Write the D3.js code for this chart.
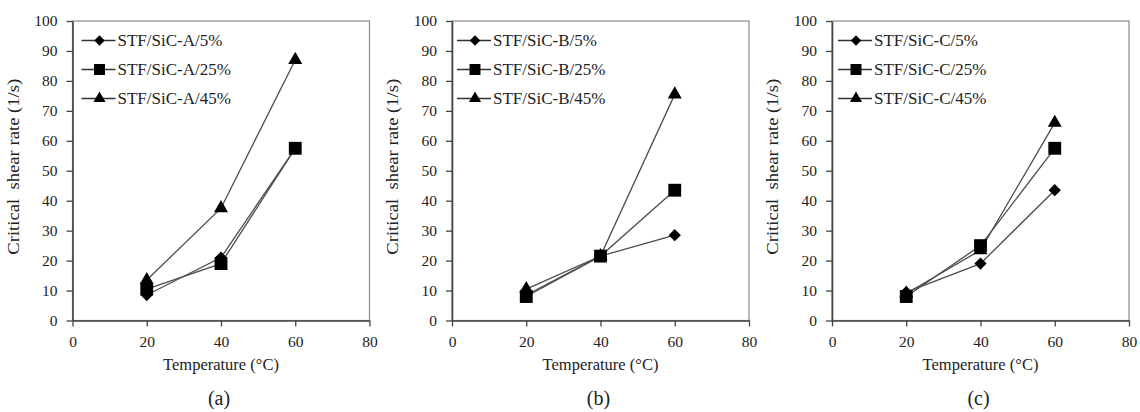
<!DOCTYPE html>
<html>
<head>
<meta charset="utf-8">
<script src="https://cdn.jsdelivr.net/npm/d3@7"></script>
<style>
  html, body { margin: 0; padding: 0; background: #fff; }
  svg { display: block; }
  svg text { font-family: "Liberation Serif", "Times New Roman", Times, "DejaVu Serif", serif; fill: #222; }
</style>
</head>
<body>
<svg id="chart" width="1140" height="412"></svg>
<script>
// Critical shear rate vs temperature for three SiC grades at three loadings
const temperatures = [20, 40, 60];
const xTickValues = [0, 20, 40, 60, 80];
const yTickValues = [0, 10, 20, 30, 40, 50, 60, 70, 80, 90, 100];
const panelCaptions = ["(a)", "(b)", "(c)"];
const grades = ["A", "B", "C"];
const loadings = ["5%", "25%", "45%"];
const markerKinds = ["diamond", "square", "triangle"];

// critical shear rate (1/s) at 20, 40, 60 °C
const gradeA5 = [8.5, 21, 57.5];
const gradeA25 = [10.5, 19, 57.5];
const gradeA45 = [13.5, 37.5, 87];
const gradeB5 = [8.5, 21.5, 28.5];
const gradeB25 = [8, 21.5, 43.5];
const gradeB45 = [10.5, 21.5, 75.5];
const gradeC5 = [9.5, 19, 43.5];
const gradeC25 = [8, 25, 57.5];
const gradeC45 = [9, 23.5, 66];

const panelValues = [
  [gradeA5, gradeA25, gradeA45],
  [gradeB5, gradeB25, gradeB45],
  [gradeC5, gradeC25, gradeC45]
];

const xAxisTitle = "Temperature (°C)";
const yAxisTitle = "Critical\u00a0 shear rate (1/s)";

const serifStack = "'Liberation Serif', 'Times New Roman', Times, 'DejaVu Serif', serif";

// layout
const panelLeft = [72.5, 452, 832];
const legendInset = [9, 5, 6];
const plotW = 297;
const plotTop = 21;
const plotBottom = 320.5;

const svg = d3.select("#chart");

const symbolFor = {
  diamond: d3.symbol().type(d3.symbolDiamond2).size(95),
  square: d3.symbol().type(d3.symbolSquare).size(165),
  triangle: d3.symbol().type(d3.symbolTriangle2).size(140)
};
const legendSymbolFor = {
  diamond: d3.symbol().type(d3.symbolDiamond2).size(70),
  square: d3.symbol().type(d3.symbolSquare).size(120),
  triangle: d3.symbol().type(d3.symbolTriangle2).size(105)
};

panelValues.forEach((seriesSet, p) => {
  const x = d3.scaleLinear().domain([0, 80]).range([panelLeft[p], panelLeft[p] + plotW]);
  const y = d3.scaleLinear().domain([0, 100]).range([plotBottom, plotTop]);
  const g = svg.append("g").style("font-family", serifStack);

  // plot frame (top and right edges)
  g.append("rect")
    .attr("x", x(0)).attr("y", y(100))
    .attr("width", x(80) - x(0)).attr("height", y(0) - y(100))
    .attr("fill", "none").attr("stroke", "#8a8a8a").attr("stroke-width", 1.2);

  // axes
  const yAxis = g.append("g")
    .attr("transform", `translate(${x(0)},0)`)
    .call(d3.axisLeft(y).tickValues(yTickValues).tickSize(6).tickSizeOuter(0).tickPadding(9));
  const xAxis = g.append("g")
    .attr("transform", `translate(0,${y(0)})`)
    .call(d3.axisBottom(x).tickValues(xTickValues).tickSize(6).tickSizeOuter(0).tickPadding(9));
  [yAxis, xAxis].forEach(ax => {
    ax.attr("font-family", serifStack);
    ax.select(".domain").attr("stroke", "#444").attr("stroke-width", 1.6);
    ax.selectAll(".tick line").attr("stroke", "#444").attr("stroke-width", 1.3);
    ax.selectAll(".tick text")
      .style("font-family", serifStack)
      .style("font-size", "15.5px").attr("fill", "#222");
  });

  // axis titles
  g.append("text")
    .attr("x", (x(0) + x(80)) / 2).attr("y", 370)
    .attr("text-anchor", "middle")
    .style("font-size", "16.5px")
    .text(xAxisTitle);
  g.append("text")
    .attr("transform", `translate(${x(0) - 54},${(y(0) + y(100)) / 2 - 4}) rotate(-90)`)
    .attr("text-anchor", "middle")
    .attr("textLength", 176).attr("lengthAdjust", "spacingAndGlyphs")
    .style("font-size", "16px").attr("fill", "#333")
    .text(yAxisTitle);

  // caption
  g.append("text")
    .attr("x", (x(0) + x(80)) / 2 - 2).attr("y", 405)
    .attr("text-anchor", "middle")
    .style("font-size", "20px").attr("fill", "#111")
    .text(panelCaptions[p]);

  const line = d3.line().x((d, i) => x(temperatures[i])).y(d => y(d));

  // series, 45% drawn first so lower loadings sit on top
  [2, 1, 0].forEach(s => {
    g.append("path")
      .attr("d", line(seriesSet[s]))
      .attr("fill", "none").attr("stroke", "#4d4d4d").attr("stroke-width", 1.3);
  });
  [2, 1, 0].forEach(s => {
    g.selectAll(null).data(seriesSet[s]).enter().append("path")
      .attr("d", symbolFor[markerKinds[s]]())
      .attr("transform", (d, i) => `translate(${x(temperatures[i])},${y(d)})`)
      .attr("fill", "#000");
  });

  // legend
  const lx = x(0) + legendInset[p];
  const rows = [40.5, 69.5, 98.5];
  loadings.forEach((ld, s) => {
    const row = g.append("g").attr("transform", `translate(${lx},${rows[s]})`);
    row.append("line").attr("x1", 0).attr("x2", 34).attr("y1", 0).attr("y2", 0)
      .attr("stroke", "#333").attr("stroke-width", 1.4);
    row.append("path").attr("d", legendSymbolFor[markerKinds[s]]())
      .attr("transform", "translate(18,0)").attr("fill", "#000");
    row.append("text").attr("x", 36).attr("y", 0).attr("dy", "0.35em")
      .style("font-size", "17px")
      .text(`STF/SiC-${grades[p]}/${ld}`);
  });
});
</script>
</body>
</html>
